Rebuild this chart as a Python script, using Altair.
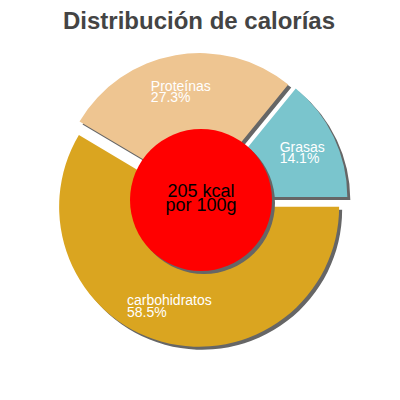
import altair as alt
import pandas as pd

# ---- data ----
categories = ["carbohidratos", "Proteínas", "Grasas"]
percentages = [58.5, 27.3, 14.1]
colors = ["#DAA520", "#EEC591", "#7AC5CD"]
title_text = ["Distribución de calorías"]
energy_kcal = [205]
center_lines = ["205 kcal", "por 100g"]

# ---- layout constants ----
PAD_TOP = 10
CX, CY = 193, 182
R_OUT, R_IN = 140, 40
R_CENTER = 71
EXPLODE = 7
LABEL_R = 110
LABEL_SHIFT = 5
SHADOW = "#666666"
FONT = "Liberation Sans"

df = pd.DataFrame({"cat": categories, "value": percentages, "idx": list(range(len(categories)))})

base = (
    alt.Chart(df)
    .transform_window(cum="sum(value)", sort=[alt.SortField("idx")], frame=[None, 0])
    .transform_joinaggregate(total="sum(value)")
    .transform_calculate(t1="PI/2 + 2*PI*datum.cum/datum.total")
    .transform_calculate(t0="datum.t1 - 2*PI*datum.value/datum.total")
    .transform_calculate(mid="(datum.t0 + datum.t1)/2")
    .transform_calculate(
        sx=f"{CX} + {EXPLODE}*sin(datum.mid)",
        sy=f"{CY} - {EXPLODE}*cos(datum.mid)",
    )
    .transform_calculate(
        lx=f"{CX} + {LABEL_R}*sin(datum.mid) - length(datum.cat)*3.45",
        ly=f"{CY} - {LABEL_R}*cos(datum.mid) - {LABEL_SHIFT}",
        label="datum.cat + '\\n' + format(datum.value, '.1f') + '%'",
    )
)

enc = dict(
    theta=alt.Theta("t0:Q", scale=None, stack=False),
    theta2=alt.Theta2("t1:Q"),
    x=alt.X("sx:Q", scale=None, axis=None),
    y=alt.Y("sy:Q", scale=None, axis=None),
)

shadow = base.mark_arc(radius=R_OUT, innerRadius=R_IN, color=SHADOW, xOffset=3, yOffset=3).encode(**enc)
slices = base.mark_arc(radius=R_OUT, innerRadius=R_IN).encode(
    **enc,
    color=alt.Color("cat:N", scale=alt.Scale(domain=categories, range=colors), legend=None),
)
labels = base.mark_text(
    align="left", baseline="middle", lineBreak="\n", fontSize=14, lineHeight=11.5,
    color="white", font=FONT,
).encode(
    x=alt.X("lx:Q", scale=None, axis=None),
    y=alt.Y("ly:Q", scale=None, axis=None),
    text="label:N",
)

center_df = pd.DataFrame({"kcal": energy_kcal, "text": ["\n".join(center_lines)]})
circ_shadow = alt.Chart(center_df).mark_arc(
    radius=R_CENTER, theta=0, theta2=6.2832, color=SHADOW, xOffset=3, yOffset=3
).encode(x=alt.value(CX), y=alt.value(CY))
circ = alt.Chart(center_df).mark_arc(
    radius=R_CENTER, theta=0, theta2=6.2832, color="#FF0000"
).encode(x=alt.value(CX), y=alt.value(CY))
center_text = alt.Chart(center_df).mark_text(
    align="center", baseline="middle", lineBreak="\n", fontSize=18, lineHeight=14,
    color="black", font=FONT,
).encode(x=alt.value(CX), y=alt.value(CY - 8), text="text:N")

title_df = pd.DataFrame({"t": title_text})
title = alt.Chart(title_df).mark_text(
    align="center", baseline="alphabetic", fontSize=24, fontWeight="bold",
    color="#444444", font=FONT,
).encode(x=alt.value(191), y=alt.value(29 - 8 - PAD_TOP), text="t:N")

chart = alt.layer(shadow, slices, labels, circ_shadow, circ, center_text, title).properties(
    width=384, height=384 - PAD_TOP,
    autosize=alt.AutoSizeParams(type="none"),
    padding={"left": 0, "top": PAD_TOP, "right": 0, "bottom": 0},
).configure_view(stroke=None)

chart.save("out.html", embed_options={"renderer": "svg", "actions": False})
